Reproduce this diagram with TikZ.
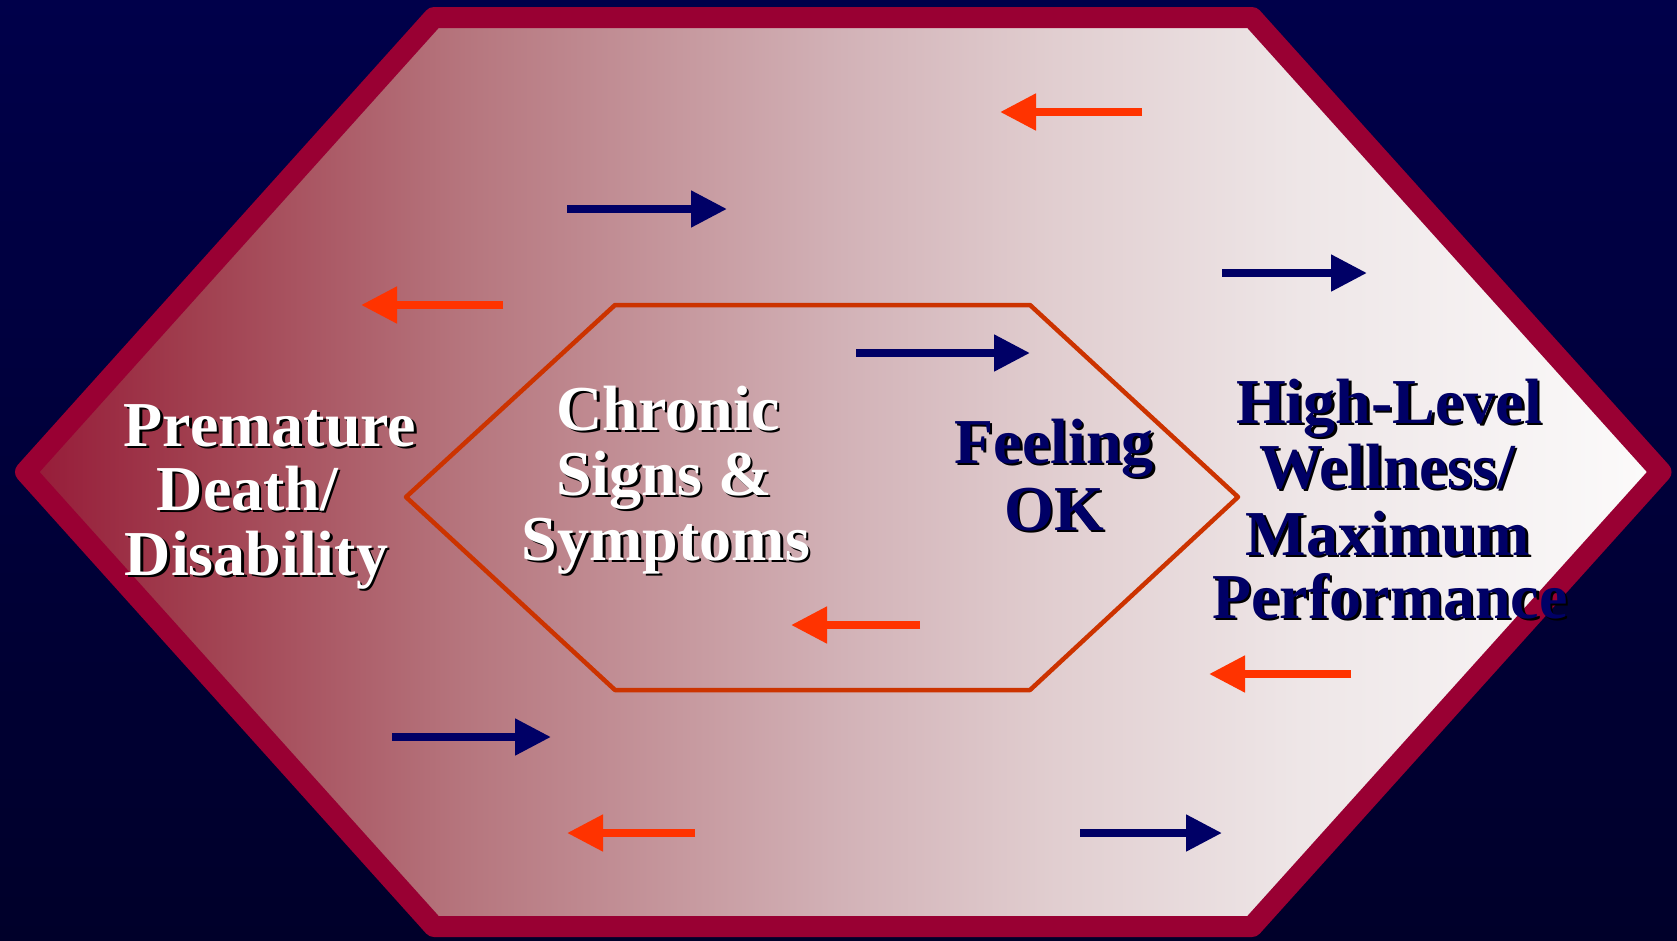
\documentclass[tikz,border=0pt]{standalone}
\usepackage{fontspec}
\setmainfont{Liberation Serif}
\usetikzlibrary{arrows.meta}
\definecolor{bgtop}{RGB}{0,0,74}
\definecolor{bgbot}{RGB}{0,0,42}
\definecolor{rim}{RGB}{153,0,51}
\definecolor{inrim}{RGB}{204,51,0}
\definecolor{navy}{RGB}{0,0,102}
\definecolor{orng}{RGB}{255,51,0}
\definecolor{gA}{RGB}{150,26,56}
\definecolor{gB}{RGB}{160,62,78}
\definecolor{gC}{RGB}{182,118,126}
\definecolor{gD}{RGB}{198,152,158}
\definecolor{gE}{RGB}{210,178,183}
\definecolor{gF}{RGB}{225,206,208}
\definecolor{gG}{RGB}{238,230,231}
\definecolor{gH}{RGB}{252,251,251}
\pgfdeclarehorizontalshading{hexfill}{100bp}{
  color(0bp)=(gA); color(25bp)=(gA); color(30bp)=(gB); color(38.5bp)=(gC); color(45bp)=(gD);
  color(50bp)=(gE); color(56.5bp)=(gF); color(64bp)=(gG); color(75bp)=(gH); color(100bp)=(gH)}
\tikzset{
  txt/.style={anchor=base,inner sep=0pt,font=\fontsize{64}{64}\selectfont\bfseries},
  fwd/.style={draw=navy,line width=8pt,-{Triangle[length=36pt,width=35pt]}},
  back/.style={draw=orng,line width=8pt,-{Triangle[length=36pt,width=35pt]}},
}
\newcommand\sline[5]{%
  \node[txt,text=black] (#1s) at (#2+2.5,#3+2.5) {#5};
  \node[txt,text=#4] (#1) at (#2,#3) {#5};}
\begin{document}
\begin{tikzpicture}[x=1pt,y=-1pt]
\useasboundingbox (0,0) rectangle (1677,940);
\shade[top color=bgtop,bottom color=bgbot] (0,0) rectangle (1677,940);
% outer hexagon
\shade[shading=hexfill]
  (25.5,472) -- (434,17.5) -- (1252,17.5) -- (1661,472) -- (1252,926.5) -- (434,926.5) -- cycle;
\draw[rim,line width=21pt,line join=round]
  (25.5,472) -- (434,17.5) -- (1252,17.5) -- (1661,472) -- (1252,926.5) -- (434,926.5) -- cycle;
% inner hexagon
\draw[inrim,line width=4.5pt,line join=round]
  (406,497) -- (615,305) -- (1030,305) -- (1238,497) -- (1030,690) -- (615,690) -- cycle;
% arrows
\coordinate (o1a) at (1142,112); \coordinate (o1b) at (1000,112);
\coordinate (o2a) at (503,305);  \coordinate (o2b) at (361,305);
\coordinate (o3a) at (920,625);  \coordinate (o3b) at (791,625);
\coordinate (o4a) at (1351,674); \coordinate (o4b) at (1209,674);
\coordinate (o5a) at (695,833);  \coordinate (o5b) at (567,833);
\coordinate (n1a) at (567,209);  \coordinate (n1b) at (727,209);
\coordinate (n2a) at (1222,273); \coordinate (n2b) at (1367,273);
\coordinate (n3a) at (856,353);  \coordinate (n3b) at (1030,353);
\coordinate (n4a) at (392,737);  \coordinate (n4b) at (551,737);
\coordinate (n5a) at (1080,833); \coordinate (n5b) at (1222,833);
\foreach \i in {1,...,5}{
  \draw[back] (o\i a) -- (o\i b);
  \draw[fwd] (n\i a) -- (n\i b);
}
% texts
\sline{p1}{270}{446}{white}{Premature}
\sline{p2}{247.5}{510}{white}{Death/}
\sline{p3}{256.5}{575}{white}{Disability}
\sline{c1}{668}{430}{white}{Chronic}
\sline{c2}{664}{495}{white}{Signs \&}
\sline{c3}{666}{560}{white}{Symptoms}
\sline{f1}{1054}{463}{navy}{Feeling}
\sline{f2}{1054}{530}{navy}{OK}
\sline{h1}{1389}{423}{navy}{High-Level}
\sline{h2}{1387}{488}{navy}{Wellness/}
\sline{h3}{1388}{555}{navy}{Maximum}
\sline{h4}{1390}{618}{navy}{Performance}
\end{tikzpicture}
\end{document}
